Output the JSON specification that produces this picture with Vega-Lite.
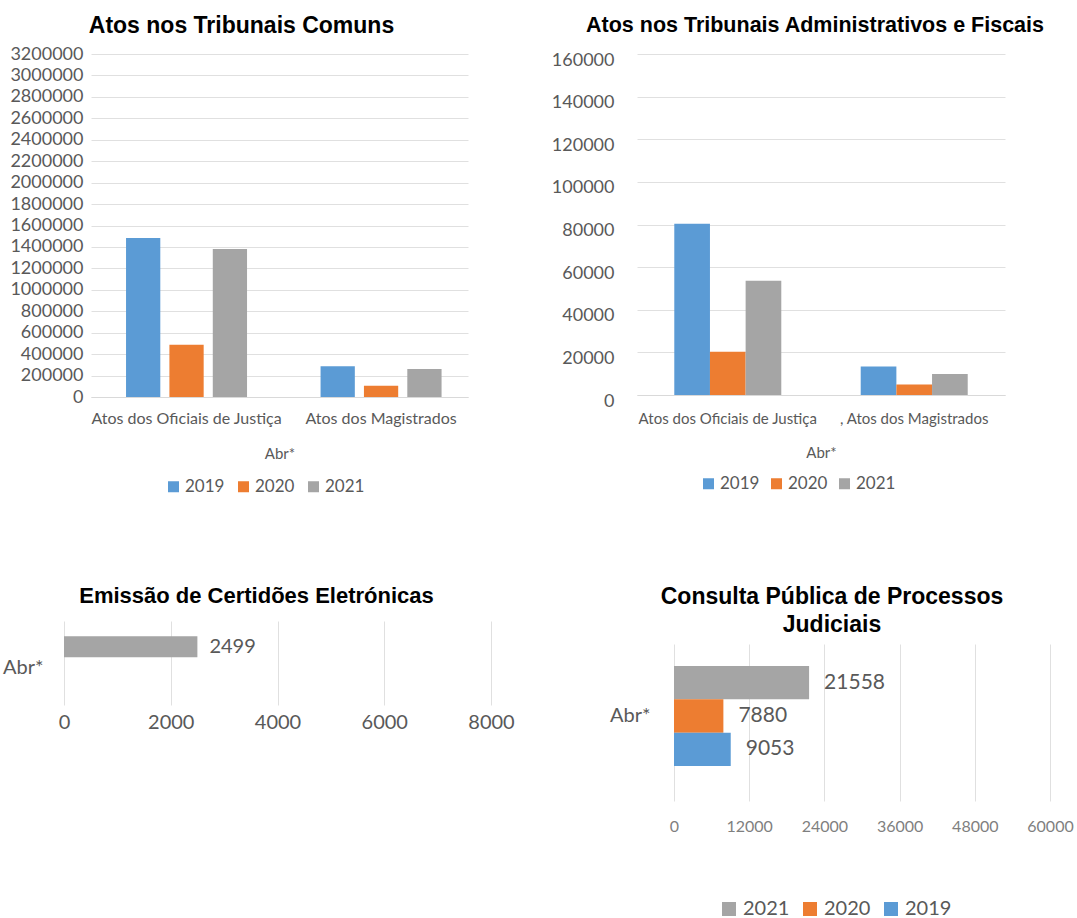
{
  "$schema": "https://vega.github.io/schema/vega-lite/v6.json",
  "background": "white",
  "padding": {"left": 2, "top": 14, "right": 0, "bottom": 0},
  "config": {
    "view": {"stroke": null},
    "font": "Lato",
    "axis": {"labelFont": "Lato", "labelColor": "#595959", "titleFont": "Lato", "titleColor": "#595959", "titleFontWeight": "normal", "ticks": false, "domain": false, "gridColor": "#e0e0e0", "labelLimit": 0},
    "legend": {"labelFont": "Lato", "labelColor": "#595959", "title": null, "symbolType": "square", "symbolStrokeWidth": 0, "orient": "none", "direction": "horizontal"},
    "title": {"font": "Liberation Sans", "fontWeight": "bold", "color": "#000000", "anchor": "middle", "frame": "group", "baseline": "alphabetic"}
  },
  "resolve": {"scale": {"color": "independent", "xOffset": "independent", "yOffset": "independent"}, "legend": {"color": "independent"}},
  "spacing": 90,
  "vconcat": [
    {
      "bounds": "flush",
      "spacing": 26,
      "resolve": {"scale": {"color": "independent", "xOffset": "independent", "yOffset": "independent"}, "legend": {"color": "independent"}},
      "hconcat": [
        {"width": 1, "height": 1, "data": {"values": []}, "mark": "point"},
        {
          "spacing": 83,
          "resolve": {"scale": {"color": "independent", "xOffset": "independent", "yOffset": "independent"}, "legend": {"color": "independent"}},
          "hconcat": [
            {
              "width": 377, "height": 343,
              "title": {"text": "Atos nos Tribunais Comuns", "fontSize": 23, "dx": -38, "offset": 7},
              "data": {"values": [
                {"categoria": "Atos dos Oficiais de Justiça", "ano": "2019", "valor": 1483000},
                {"categoria": "Atos dos Oficiais de Justiça", "ano": "2020", "valor": 488000},
                {"categoria": "Atos dos Oficiais de Justiça", "ano": "2021", "valor": 1381000},
                {"categoria": "Atos dos Magistrados", "ano": "2019", "valor": 286000},
                {"categoria": "Atos dos Magistrados", "ano": "2020", "valor": 106000},
                {"categoria": "Atos dos Magistrados", "ano": "2021", "valor": 261000}
              ]},
              "mark": {"type": "bar"},
              "encoding": {
                "x": {"field": "categoria", "type": "nominal", "sort": null,
                      "scale": {"paddingInner": 0.378, "paddingOuter": 0.158, "align": 0.57},
                      "axis": {"labelAngle": 0, "title": "Abr*", "labelFontSize": 16, "labelPadding": 13, "titleFontSize": 15, "titlePadding": 20, "domain": true, "domainColor": "#d9d9d9"}},
                "xOffset": {"field": "ano", "type": "nominal", "scale": {"paddingInner": 0.21, "paddingOuter": 0}},
                "y": {"field": "valor", "type": "quantitative",
                      "scale": {"domain": [0, 3200000], "nice": false},
                      "axis": {"values": [0, 200000, 400000, 600000, 800000, 1000000, 1200000, 1400000, 1600000, 1800000, 2000000, 2200000, 2400000, 2600000, 2800000, 3000000, 3200000], "format": "d", "title": null, "grid": true, "labelFontSize": 18, "labelPadding": 8}},
                "color": {"field": "ano", "type": "nominal",
                          "scale": {"domain": ["2019", "2020", "2021"], "range": ["#5B9BD5", "#ED7D31", "#A5A5A5"]},
                          "legend": {"legendX": 74, "legendY": 424, "symbolSize": 121, "labelFontSize": 17, "columnPadding": 10, "labelOffset": 3}}
              }
            },
            {
              "width": 368, "height": 341,
              "title": {"text": "Atos nos Tribunais Administrativos e Fiscais", "fontSize": 21.5, "dx": -6, "offset": 15},
              "data": {"values": [
                {"categoria": "Atos dos Oficiais de Justiça", "ano": "2019", "valor": 80400},
                {"categoria": "Atos dos Oficiais de Justiça", "ano": "2020", "valor": 20300},
                {"categoria": "Atos dos Oficiais de Justiça", "ano": "2021", "valor": 53600},
                {"categoria": ", Atos dos Magistrados", "ano": "2019", "valor": 13400},
                {"categoria": ", Atos dos Magistrados", "ano": "2020", "valor": 4900},
                {"categoria": ", Atos dos Magistrados", "ano": "2021", "valor": 9900}
              ]},
              "mark": {"type": "bar"},
              "encoding": {
                "x": {"field": "categoria", "type": "nominal", "sort": null,
                      "scale": {"paddingInner": 0.426, "paddingOuter": 0.2, "align": 0.5},
                      "axis": {"labelAngle": 0, "title": "Abr*", "labelFontSize": 15, "labelPadding": 16, "titleFontSize": 15, "titlePadding": 19, "domain": true, "domainColor": "#d9d9d9"}},
                "xOffset": {"field": "ano", "type": "nominal", "scale": {"paddingInner": 0, "paddingOuter": 0}},
                "y": {"field": "valor", "type": "quantitative",
                      "scale": {"domain": [0, 160000], "nice": false},
                      "axis": {"values": [0, 20000, 40000, 60000, 80000, 100000, 120000, 140000, 160000], "format": "d", "title": null, "grid": true, "labelFontSize": 18, "labelPadding": 23, "labelOffset": 6}},
                "color": {"field": "ano", "type": "nominal",
                          "scale": {"domain": ["2019", "2020", "2021"], "range": ["#5B9BD5", "#ED7D31", "#A5A5A5"]},
                          "legend": {"legendX": 63, "legendY": 421, "symbolSize": 121, "labelFontSize": 17, "columnPadding": 8, "labelOffset": 3}}
              }
            }
          ]
        }
      ]
    },
    {
      "spacing": 94,
      "resolve": {"scale": {"color": "independent", "xOffset": "independent", "yOffset": "independent"}, "legend": {"color": "independent"}},
      "hconcat": [
        {
          "width": 427, "height": 84,
          "title": {"text": "Emissão de Certidões Eletrónicas", "fontSize": 22, "dx": -21, "offset": 13},
          "data": {"values": [
            {"periodo": "Abr*", "ano": "2021", "valor": 2499}
          ]},
          "encoding": {
            "y": {"field": "periodo", "type": "nominal",
                  "scale": {"paddingInner": 0, "paddingOuter": 0.167, "align": 0.72},
                  "axis": {"title": null, "labelFontSize": 20, "labelPadding": 21}},
            "yOffset": {"field": "ano", "type": "nominal", "scale": {"domain": ["2021", "2020", "2019"], "paddingInner": 0, "paddingOuter": 0}},
            "x": {"field": "valor", "type": "quantitative",
                  "scale": {"domain": [0, 8000], "nice": false},
                  "axis": {"values": [0, 2000, 4000, 6000, 8000], "format": "d", "title": null, "grid": true, "labelFontSize": 20, "labelPadding": 7, "labelFlush": false}}
          },
          "layer": [
            {"mark": {"type": "bar", "color": "#A5A5A5"}},
            {"mark": {"type": "text", "align": "left", "baseline": "middle", "dx": 12, "fontSize": 20, "font": "Lato", "color": "#595959"},
             "encoding": {"text": {"field": "valor", "type": "quantitative", "format": "d"}}}
          ]
        },
        {
          "bounds": "flush",
          "spacing": 22,
          "resolve": {"scale": {"color": "independent", "xOffset": "independent", "yOffset": "independent"}, "legend": {"color": "independent"}},
          "vconcat": [
            {"width": 1, "height": 1, "data": {"values": []}, "mark": "point"},
            {
              "width": 376, "height": 157,
              "title": {"text": ["Consulta Pública de Processos", "Judiciais"], "fontSize": 23, "lineHeight": 28, "dx": -30, "offset": 7},
              "data": {"values": [
                {"periodo": "Abr*", "ano": "2021", "valor": 21558},
                {"periodo": "Abr*", "ano": "2020", "valor": 7880},
                {"periodo": "Abr*", "ano": "2019", "valor": 9053}
              ]},
              "encoding": {
                "y": {"field": "periodo", "type": "nominal",
                      "scale": {"paddingInner": 0, "paddingOuter": 0.285, "align": 0.386},
                      "axis": {"title": null, "labelFontSize": 20, "labelPadding": 24}},
                "yOffset": {"field": "ano", "type": "nominal", "scale": {"domain": ["2021", "2020", "2019"], "paddingInner": 0, "paddingOuter": 0}},
                "x": {"field": "valor", "type": "quantitative",
                      "scale": {"domain": [0, 60000], "nice": false},
                      "axis": {"values": [0, 12000, 24000, 36000, 48000, 60000], "format": "d", "title": null, "grid": true, "labelFontSize": 16, "labelPadding": 17, "labelColor": "#7f7f7f", "labelFlush": false}}
              },
              "layer": [
                {"mark": {"type": "bar"},
                 "encoding": {"color": {"field": "ano", "type": "nominal",
                          "scale": {"domain": ["2021", "2020", "2019"], "range": ["#A5A5A5", "#ED7D31", "#5B9BD5"]},
                          "legend": {"legendX": 45, "legendY": 255, "symbolSize": 196, "labelFontSize": 20, "columnPadding": 10, "labelOffset": 4}}}},
                {"mark": {"type": "text", "align": "left", "baseline": "middle", "dx": 15, "fontSize": 21, "font": "Lato", "color": "#595959"},
                 "encoding": {"text": {"field": "valor", "type": "quantitative", "format": "d"}}}
              ]
            }
          ]
        }
      ]
    }
  ]
}
